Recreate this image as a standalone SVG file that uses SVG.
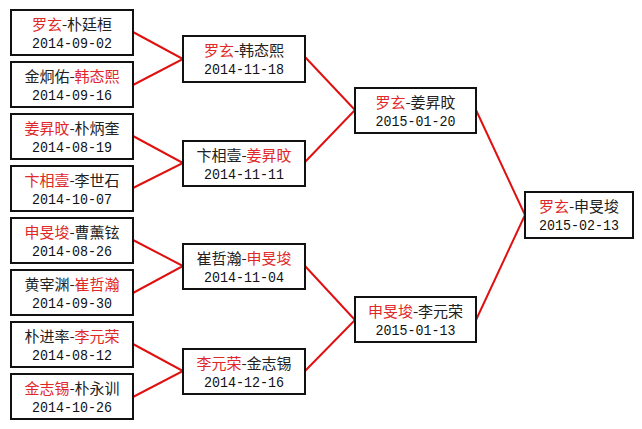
<svg xmlns="http://www.w3.org/2000/svg" width="642" height="429" viewBox="0 0 642 429">
<style>
.box{fill:#fff;stroke:#111;stroke-width:2}
.c{fill:none;stroke:#e01010;stroke-width:2}
.t{font-family:"Noto Sans CJK SC","Noto Sans CJK TC",sans-serif;font-size:15px;fill:#222;text-anchor:middle}
.d{font-family:"Liberation Mono","DejaVu Sans Mono",monospace;font-size:15px;fill:#111;text-anchor:middle}
.r{fill:#e02828}
</style>
<rect width="642" height="429" fill="#fff"/>
<g id="connectors">
<polyline class="c" points="133,32 183,59 133,85"/>
<polyline class="c" points="133,136 183,163 133,188"/>
<polyline class="c" points="133,240 183,266 133,293"/>
<polyline class="c" points="133,344 183,371 133,397"/>
<polyline class="c" points="305,57 355,110 305,162"/>
<polyline class="c" points="305,266 355,320 305,371"/>
<polyline class="c" points="476,110 525,215 476,320"/>
</g>
<g id="n1"><rect class="box" x="11" y="10" width="122" height="45"/><text class="t" x="72" y="30"><tspan class="r">罗玄</tspan>-朴廷桓</text><text class="d" x="72" y="48" textLength="80" lengthAdjust="spacingAndGlyphs">2014-09-02</text></g>
<g id="n2"><rect class="box" x="11" y="62" width="122" height="45"/><text class="t" x="72" y="82">金炯佑-<tspan class="r">韩态熙</tspan></text><text class="d" x="72" y="100" textLength="80" lengthAdjust="spacingAndGlyphs">2014-09-16</text></g>
<g id="n3"><rect class="box" x="11" y="114" width="122" height="45"/><text class="t" x="72" y="134"><tspan class="r">姜昇旼</tspan>-朴炳奎</text><text class="d" x="72" y="152" textLength="80" lengthAdjust="spacingAndGlyphs">2014-08-19</text></g>
<g id="n4"><rect class="box" x="11" y="166" width="122" height="45"/><text class="t" x="72" y="186"><tspan class="r">卞相壹</tspan>-李世石</text><text class="d" x="72" y="204" textLength="80" lengthAdjust="spacingAndGlyphs">2014-10-07</text></g>
<g id="n5"><rect class="box" x="11" y="218" width="122" height="45"/><text class="t" x="72" y="238"><tspan class="r">申旻埈</tspan>-曹薰铉</text><text class="d" x="72" y="256" textLength="80" lengthAdjust="spacingAndGlyphs">2014-08-26</text></g>
<g id="n6"><rect class="box" x="11" y="270" width="122" height="45"/><text class="t" x="72" y="290">黄宰渊-<tspan class="r">崔哲瀚</tspan></text><text class="d" x="72" y="308" textLength="80" lengthAdjust="spacingAndGlyphs">2014-09-30</text></g>
<g id="n7"><rect class="box" x="11" y="322" width="122" height="45"/><text class="t" x="72" y="342">朴进率-<tspan class="r">李元荣</tspan></text><text class="d" x="72" y="360" textLength="80" lengthAdjust="spacingAndGlyphs">2014-08-12</text></g>
<g id="n8"><rect class="box" x="11" y="374" width="122" height="45"/><text class="t" x="72" y="394"><tspan class="r">金志锡</tspan>-朴永训</text><text class="d" x="72" y="412" textLength="80" lengthAdjust="spacingAndGlyphs">2014-10-26</text></g>
<g id="n9"><rect class="box" x="183" y="36" width="122" height="46"/><text class="t" x="244" y="56"><tspan class="r">罗玄</tspan>-韩态熙</text><text class="d" x="244" y="74" textLength="80" lengthAdjust="spacingAndGlyphs">2014-11-18</text></g>
<g id="n10"><rect class="box" x="183" y="141" width="122" height="45"/><text class="t" x="244" y="161">卞相壹-<tspan class="r">姜昇旼</tspan></text><text class="d" x="244" y="179" textLength="80" lengthAdjust="spacingAndGlyphs">2014-11-11</text></g>
<g id="n11"><rect class="box" x="183" y="244" width="122" height="45"/><text class="t" x="244" y="264">崔哲瀚-<tspan class="r">申旻埈</tspan></text><text class="d" x="244" y="282" textLength="80" lengthAdjust="spacingAndGlyphs">2014-11-04</text></g>
<g id="n12"><rect class="box" x="183" y="349" width="122" height="45"/><text class="t" x="244" y="369"><tspan class="r">李元荣</tspan>-金志锡</text><text class="d" x="244" y="387" textLength="80" lengthAdjust="spacingAndGlyphs">2014-12-16</text></g>
<g id="n13"><rect class="box" x="355" y="88" width="121" height="45"/><text class="t" x="415.5" y="108"><tspan class="r">罗玄</tspan>-姜昇旼</text><text class="d" x="415.5" y="126" textLength="80" lengthAdjust="spacingAndGlyphs">2015-01-20</text></g>
<g id="n14"><rect class="box" x="355" y="297" width="121" height="45"/><text class="t" x="415.5" y="317"><tspan class="r">申旻埈</tspan>-李元荣</text><text class="d" x="415.5" y="335" textLength="80" lengthAdjust="spacingAndGlyphs">2015-01-13</text></g>
<g id="n15"><rect class="box" x="525" y="192" width="108" height="46"/><text class="t" x="579" y="212"><tspan class="r">罗玄</tspan>-申旻埈</text><text class="d" x="579" y="230" textLength="80" lengthAdjust="spacingAndGlyphs">2015-02-13</text></g>
</svg>
